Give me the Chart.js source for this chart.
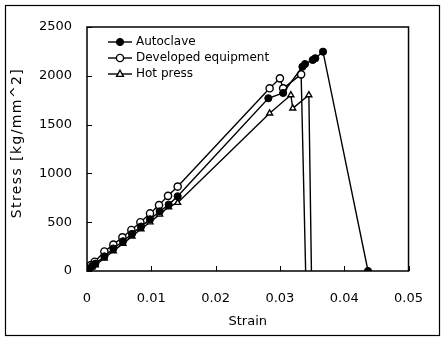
<!DOCTYPE html>
<html>
<head>
<meta charset="utf-8">
<script src="https://cdn.jsdelivr.net/npm/chart.js@4"></script>
<style>
html,body{margin:0;padding:0;background:#fff;}
#wrap{width:443px;height:338px;position:relative;}
</style>
</head>
<body>
<div id="wrap"><canvas id="c"></canvas></div>
<script>
// ---- data ----
const seriesNames = ['Autoclave', 'Developed equipment', 'Hot press'];

const strainAutoclave = [0, 0.0004, 0.0008, 0.0013, 0.0027, 0.0041, 0.0056, 0.0070, 0.0084, 0.0098, 0.0113, 0.0127, 0.0141, 0.0282, 0.0305, 0.0335, 0.0339, 0.0351, 0.0355, 0.0367, 0.0437];
const stressAutoclave = [0, 25, 50, 75, 150, 230, 305, 380, 455, 530, 610, 680, 765, 1770, 1824, 2093, 2120, 2162, 2180, 2247, 0];

const strainDeveloped = [0, 0.0003, 0.0006, 0.0012, 0.0027, 0.0041, 0.0055, 0.0069, 0.0083, 0.0098, 0.0112, 0.0126, 0.0141, 0.0284, 0.0300, 0.0305, 0.0333, 0.0340];
const stressDeveloped = [0, 30, 60, 95, 200, 270, 345, 420, 500, 590, 675, 770, 865, 1872, 1974, 1872, 2015, 0];

const strainHotPress = [0, 0.0004, 0.0008, 0.0013, 0.0027, 0.0041, 0.0056, 0.0070, 0.0084, 0.0098, 0.0113, 0.0127, 0.0141, 0.0284, 0.0317, 0.0320, 0.0345, 0.0349];
const stressHotPress = [0, 20, 40, 60, 130, 205, 280, 355, 430, 500, 580, 655, 700, 1616, 1803, 1667, 1803, 0];

const xTickLabels = ['0', '0.01', '0.02', '0.03', '0.04', '0.05'];
const yTickLabels = ['0', '500', '1000', '1500', '2000', '2500'];
const xTitle = 'Strain';
const yTitle = 'Stress [kg/mm^2]';

// ---- build ----
const pts = (xs, ys) => xs.map((x, i) => ({x: x, y: ys[i]}));
const radii = (n, lastHidden, r) => Array.from({length: n}, (_, i) => (lastHidden && i === n - 1) ? 0 : r);

const FONT = '"DejaVu Sans", sans-serif';

const datasets = [
  {
    label: seriesNames[0],
    data: pts(strainAutoclave, stressAutoclave),
    borderColor: '#000', borderWidth: 1.4,
    pointStyle: 'circle', pointBackgroundColor: '#000', pointBorderColor: '#000',
    pointRadius: radii(strainAutoclave.length, false, 3.6), pointBorderWidth: 1,
    tension: 0
  },
  {
    label: seriesNames[1],
    data: pts(strainDeveloped, stressDeveloped),
    borderColor: '#000', borderWidth: 1.4,
    pointStyle: 'circle', pointBackgroundColor: '#fff', pointBorderColor: '#000',
    pointRadius: radii(strainDeveloped.length, true, 3.6), pointBorderWidth: 1.4,
    tension: 0
  },
  {
    label: seriesNames[2],
    data: pts(strainHotPress, stressHotPress),
    borderColor: '#000', borderWidth: 1.4,
    pointStyle: 'triangle', pointBackgroundColor: '#fff', pointBorderColor: '#000',
    pointRadius: radii(strainHotPress.length, true, 3.4), pointBorderWidth: 1.4,
    tension: 0
  }
];

const decor = {
  id: 'decor',
  beforeDraw(chart) {
    const ctx = chart.ctx;
    ctx.save();
    ctx.fillStyle = '#fff';
    ctx.fillRect(0, 0, chart.width, chart.height);
    ctx.restore();
  },
  afterDraw(chart) {
    const ctx = chart.ctx;
    const a = chart.chartArea;
    const xs = chart.scales.x, ys = chart.scales.y;
    ctx.save();
    ctx.strokeStyle = '#000';
    // outer frame
    ctx.lineWidth = 1.2;
    ctx.strokeRect(5.5, 5.5, 434, 330);
    // plot box
    ctx.lineWidth = 1.5;
    ctx.strokeRect(a.left, a.top, a.right - a.left, a.bottom - a.top);
    // inward ticks
    ctx.lineWidth = 1;
    ctx.beginPath();
    ys.ticks.forEach(t => {
      const y = Math.round(ys.getPixelForValue(t.value)) + 0.5;
      ctx.moveTo(a.left, y); ctx.lineTo(a.left + 5, y);
    });
    xs.ticks.forEach(t => {
      const x = Math.round(xs.getPixelForValue(t.value)) + 0.5;
      ctx.moveTo(x, a.bottom); ctx.lineTo(x, a.bottom - 5);
    });
    ctx.stroke();
    // axis titles
    ctx.fillStyle = '#000';
    ctx.font = '13px ' + FONT;
    ctx.textAlign = 'center';
    ctx.textBaseline = 'middle';
    ctx.fillText(xTitle, (a.left + a.right) / 2, 322);
    ctx.translate(17.5, 143);
    ctx.rotate(-Math.PI / 2);
    ctx.font = '14px ' + FONT;
    try { ctx.letterSpacing = '1.4px'; } catch (e) {}
    ctx.fillText(yTitle, 0, 0);
    ctx.restore();

    // legend inside plot
    ctx.save();
    const lx0 = 108, lx1 = 132, tx = 136;
    const rows = [42, 58, 74];
    ctx.font = '12px ' + FONT;
    ctx.textBaseline = 'middle';
    ctx.textAlign = 'left';
    chart.data.datasets.forEach((ds, i) => {
      const y = rows[i];
      const cx = (lx0 + lx1) / 2;
      ctx.strokeStyle = '#000';
      ctx.lineWidth = 1.4;
      ctx.beginPath();
      ctx.moveTo(lx0, y); ctx.lineTo(lx1, y);
      ctx.stroke();
      ctx.fillStyle = ds.pointBackgroundColor;
      ctx.strokeStyle = ds.pointBorderColor;
      ctx.lineWidth = ds.pointBorderWidth;
      ctx.beginPath();
      if (ds.pointStyle === 'triangle') {
        const r = 3.4;
        ctx.moveTo(cx, y - r * 1.1);
        ctx.lineTo(cx + r, y + r * 0.7);
        ctx.lineTo(cx - r, y + r * 0.7);
        ctx.closePath();
      } else {
        ctx.arc(cx, y, 3.6, 0, Math.PI * 2);
      }
      ctx.fill(); ctx.stroke();
      ctx.fillStyle = '#000';
      ctx.fillText(ds.label, tx, y);
    });
    ctx.restore();
  }
};

new Chart(document.getElementById('c'), {
  type: 'line',
  data: {datasets: datasets},
  options: {
    responsive: true,
    maintainAspectRatio: false,
    devicePixelRatio: 1,
    animation: false,
    layout: {padding: {left: 0, right: 31, top: 27, bottom: 0}},
    plugins: {legend: {display: false}, tooltip: {enabled: false}},
    scales: {
      x: {
        type: 'linear', min: 0, max: 0.05,
        grid: {display: false, drawTicks: false},
        border: {display: false},
        ticks: {
          stepSize: 0.01, color: '#000', padding: 20,
          font: {family: FONT, size: 13},
          maxRotation: 0,
          callback: (v, i) => xTickLabels[i]
        },
        afterFit: s => { s.height = 67; }
      },
      y: {
        type: 'linear', min: 0, max: 2500,
        grid: {display: false, drawTicks: false},
        border: {display: false},
        ticks: {
          stepSize: 500, color: '#000', padding: 15,
          font: {family: FONT, size: 13},
          callback: (v, i) => yTickLabels[i]
        },
        afterFit: s => { s.width = 87; }
      }
    }
  },
  plugins: [decor]
});
</script>
</body>
</html>
